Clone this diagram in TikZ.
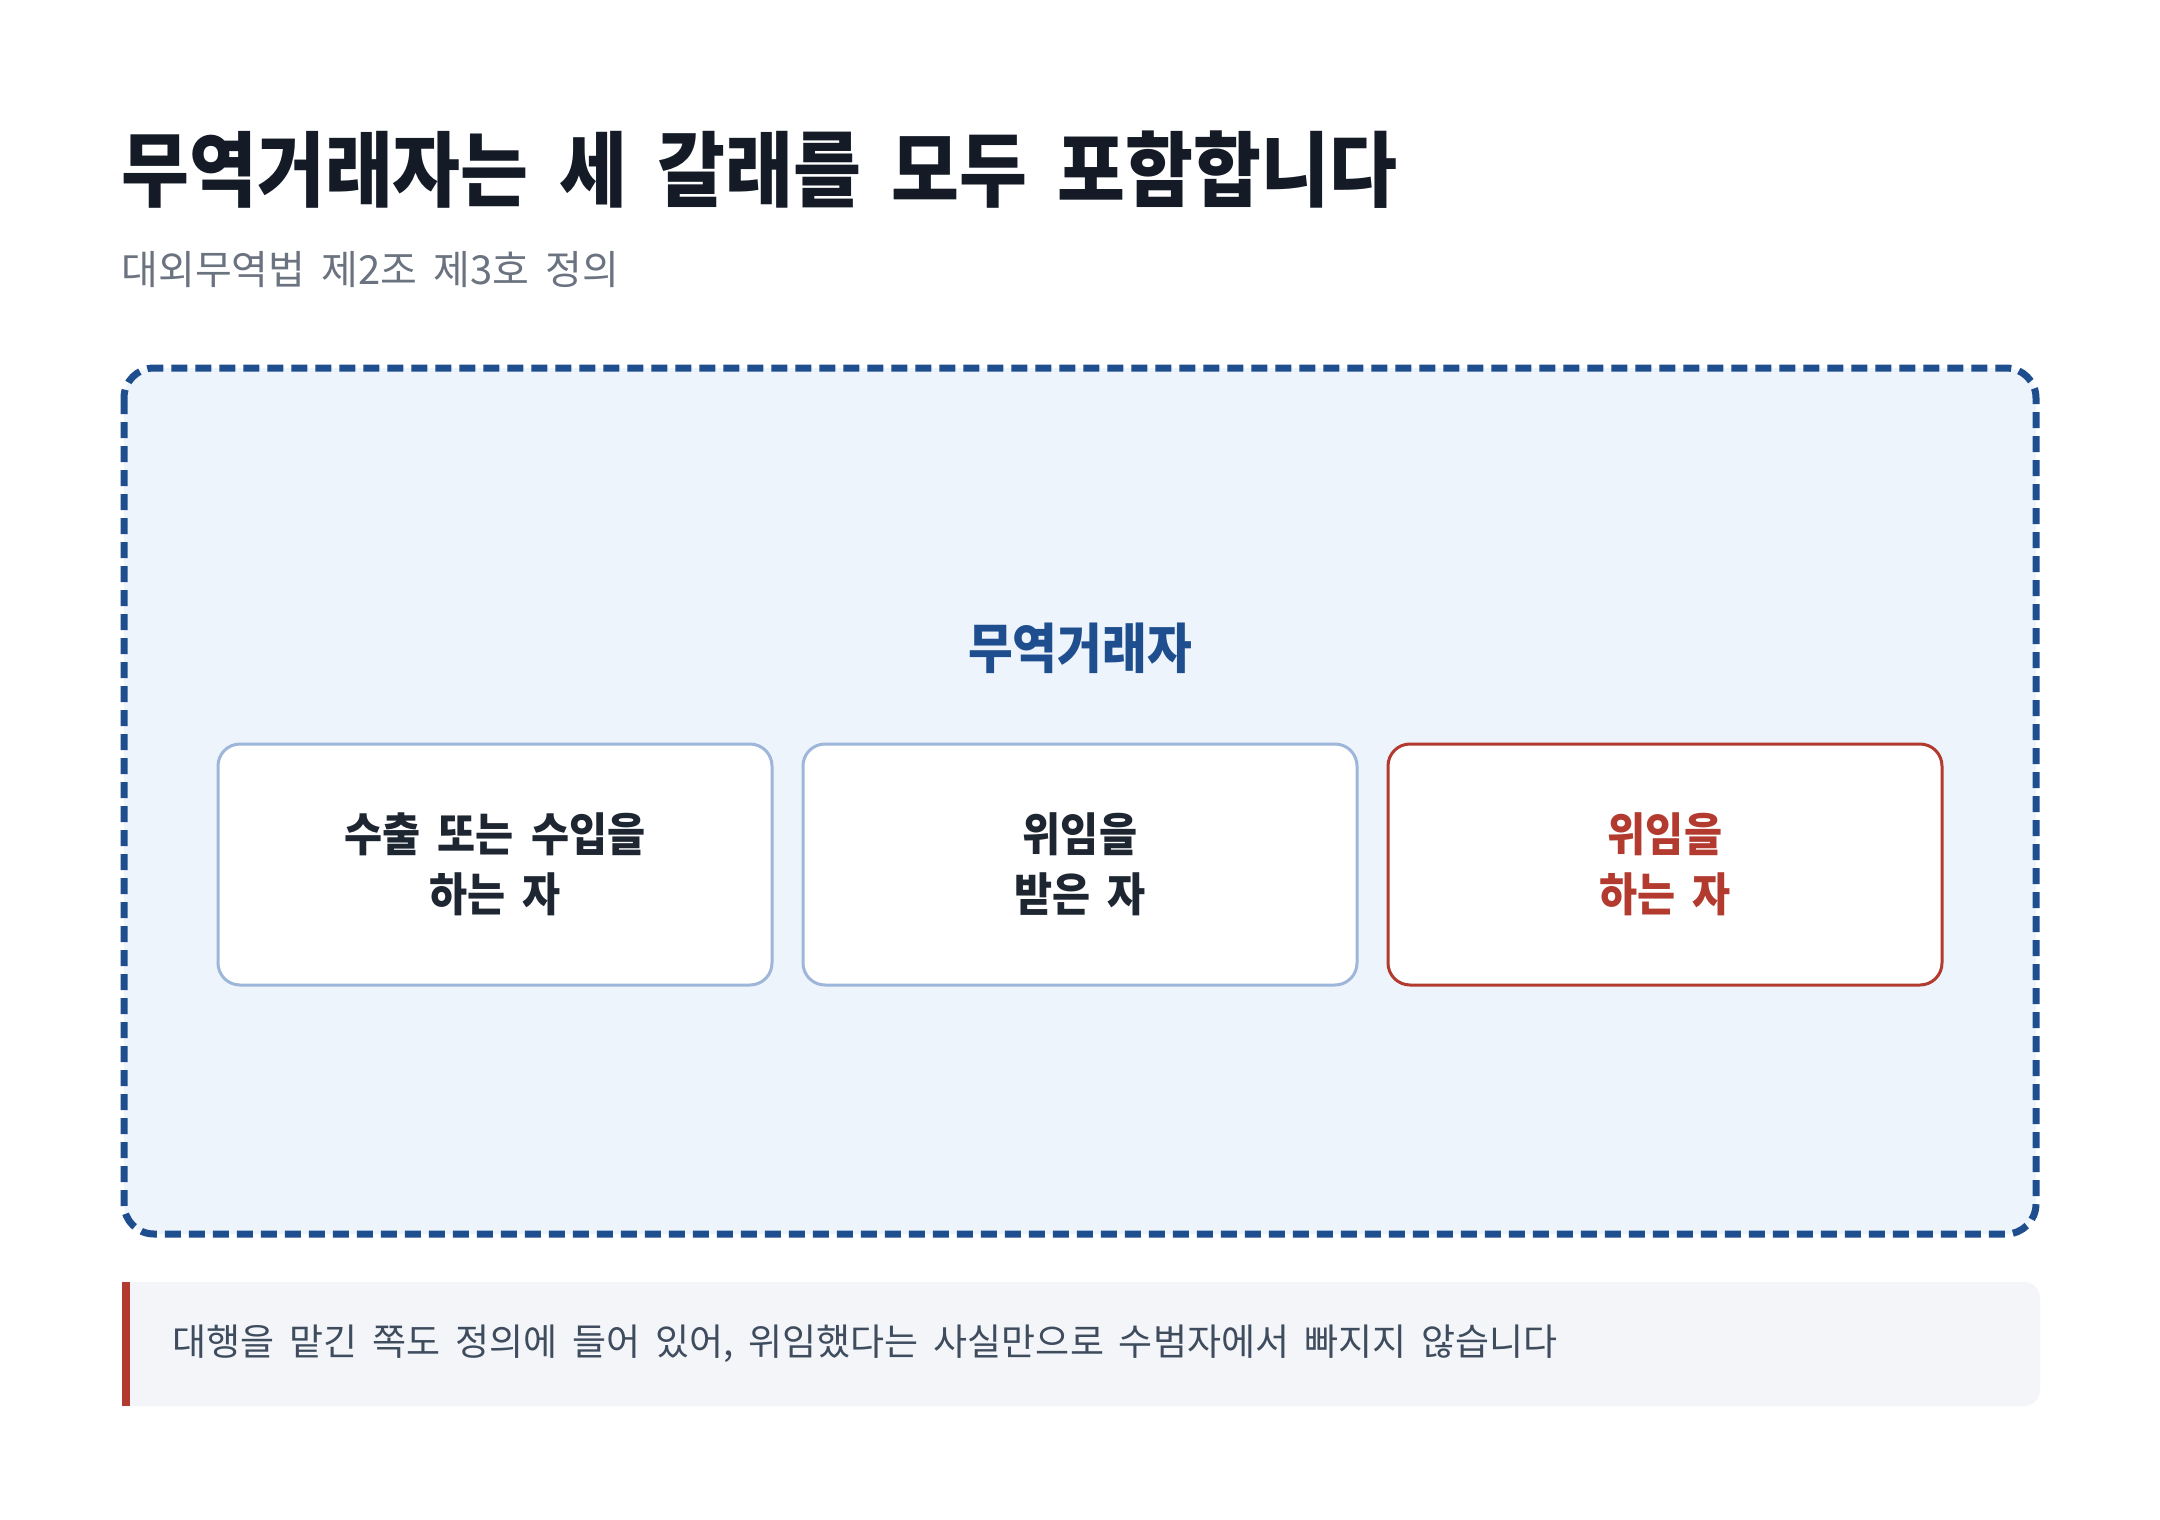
\documentclass[tikz,border=0pt]{standalone}
\usepackage{fontspec}
\setmainfont{Noto Sans CJK KR}[WordSpace=1.8, BoldFeatures={FakeStretch=0.9}]
\definecolor{titleink}{HTML}{141B26}
\definecolor{subink}{HTML}{6B7280}
\definecolor{frameblue}{HTML}{1F4E8F}
\definecolor{framefill}{HTML}{EDF4FC}
\definecolor{kindline}{HTML}{9DB6DA}
\definecolor{kindink}{HTML}{1E2632}
\definecolor{alertred}{HTML}{B23A2E}
\definecolor{notefill}{HTML}{F3F5F9}
\definecolor{noteink}{HTML}{3E4C5E}
\tikzset{
  kind/.style={draw=kindline, line width=1.5pt, fill=white, rounded corners=11pt,
    minimum width=277pt, minimum height=120.5pt, align=center, text=kindink,
    font=\fontsize{23pt}{30pt}\selectfont\bfseries},
  kindalert/.style={kind, draw=alertred, text=alertred}
}
\begin{document}
\begin{tikzpicture}[x=0.5pt, y=-0.5pt]
  \useasboundingbox[fill=white] (0,0) rectangle (2160,1520);

  \node[anchor=west, inner sep=0, text=titleink, font=\fontsize{41pt}{48pt}\selectfont\bfseries] (title) at (121,170) {무역거래자는 세 갈래를 모두 포함합니다};
  \node[anchor=west, inner sep=0, text=subink, font=\fontsize{20pt}{24pt}\selectfont] (subtitle) at (121,270) {대외무역법 제2조 제3호 정의};

  % outer frame
  \draw[frameblue, fill=framefill, line width=3.5pt, dash pattern=on 8pt off 4pt, rounded corners=15pt] (124,368) rectangle (2036,1234);
  \node[text=frameblue, inner sep=0, font=\fontsize{27pt}{32pt}\selectfont\bfseries] (trader) at (1080,648) {무역거래자};

  \node[kind] (trade) at (495,864.5) {수출 또는 수입을\\하는 자};
  \node[kind] (agent) at (1080,864.5) {위임을\\받은 자};
  \node[kindalert] (principal) at (1665,864.5) {위임을\\하는 자};

  % note
  \fill[notefill, rounded corners=8pt] (122,1282) rectangle (2040,1406);
  \fill[notefill] (122,1282) rectangle (160,1406);
  \fill[alertred] (122,1282) rectangle (130,1406);
  \node[anchor=west, inner sep=0, text=noteink, font=\fontsize{18.5pt}{22pt}\selectfont] (note) at (172,1344) {대행을 맡긴 쪽도 정의에 들어 있어, 위임했다는 사실만으로 수범자에서 빠지지 않습니다};
\end{tikzpicture}
\end{document}
